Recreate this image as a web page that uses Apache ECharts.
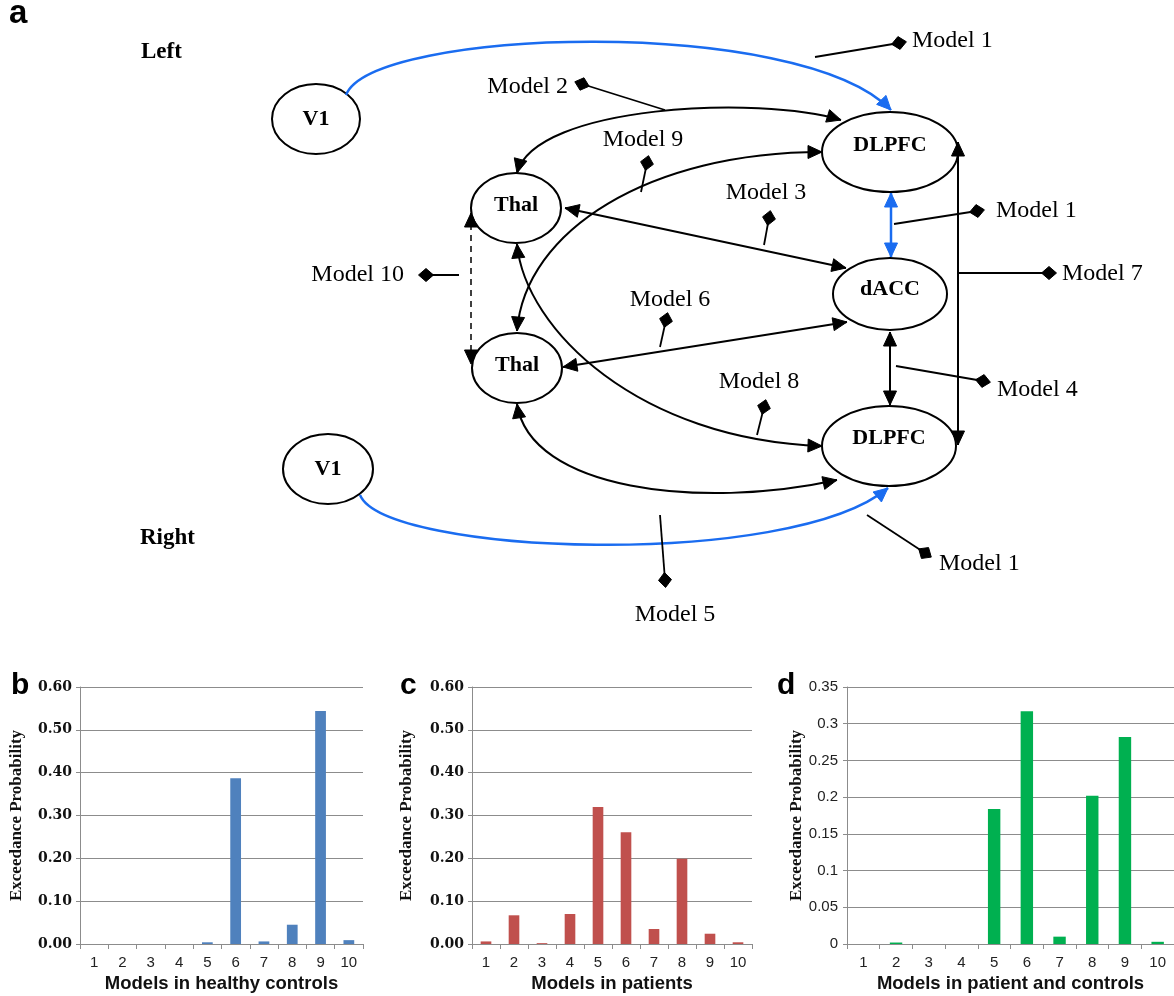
<!DOCTYPE html>
<html><head><meta charset="utf-8">
<script src="https://cdn.jsdelivr.net/npm/echarts@6/dist/echarts.min.js"></script>
<style>html,body{margin:0;padding:0;background:#fff}#c{width:1174px;height:996px}</style>
</head><body><div id="c"></div>
<script>
// ---------- data ----------
const models = ['1','2','3','4','5','6','7','8','9','10'];
const healthyControls = [0, 0, 0, 0, 0.004, 0.387, 0.006, 0.045, 0.544, 0.009];
const patients = [0.006, 0.067, 0.002, 0.070, 0.320, 0.261, 0.035, 0.199, 0.024, 0.004];
const patientsAndControls = [0, 0.002, 0, 0, 0.184, 0.317, 0.010, 0.202, 0.282, 0.003];
const xTitles = ['Models in healthy controls', 'Models in patients', 'Models in patient and controls'];
const yTitle = 'Exceedance Probability';
const panelLetters = ['a', 'b', 'c', 'd'];
const nodeLabels = ['V1', 'Thal', 'Thal', 'DLPFC', 'dACC', 'DLPFC', 'V1'];
const modelTags = ['Model 1','Model 2','Model 9','Model 3','Model 1','Model 7','Model 10','Model 6','Model 4','Model 8','Model 5','Model 1'];

// ---------- diagram layout (pixels) ----------
const nodeGeom = [
  {cx:316, cy:119, rx:44, ry:35, dy:0},
  {cx:516, cy:208, rx:45, ry:35, dy:-3},
  {cx:517, cy:368, rx:45, ry:35, dy:-3},
  {cx:890, cy:152, rx:68, ry:40, dy:-7},
  {cx:890, cy:294, rx:57, ry:36, dy:-5},
  {cx:889, cy:446, rx:67, ry:40, dy:-8},
  {cx:328, cy:469, rx:45, ry:35, dy:0}
];
const BLUE = '#1a6cf0';
const curves = [
  {p0:[346,95], c1:[372,28], c2:[800,15], p3:[891,110], color:BLUE, w:2.5, a0:false, a3:true},
  {p0:[360,495], c1:[385,555], c2:[790,570], p3:[888,488], color:BLUE, w:2.5, a0:false, a3:true},
  {p0:[517,173], c1:[535,105], c2:[760,95], p3:[841,120], color:'#000', w:2, a0:true, a3:true},
  {p0:[517,331], c1:[525,230], c2:[650,152], p3:[822,152], color:'#000', w:2, a0:true, a3:true},
  {p0:[517,244], c1:[525,330], c2:[640,440], p3:[822,446], color:'#000', w:2, a0:true, a3:true},
  {p0:[517,404], c1:[530,490], c2:[700,510], p3:[837,480], color:'#000', w:2, a0:true, a3:true}
];
const straights = [
  {a:[565,208], b:[846,268], color:'#000', w:2},
  {a:[563,367], b:[847,322], color:'#000', w:2},
  {a:[891,193], b:[891,257], color:BLUE, w:2.5},
  {a:[890,332], b:[890,405], color:'#000', w:2},
  {a:[958,142], b:[958,445], color:'#000', w:2},
  {a:[471,213], b:[471,364], color:'#000', w:1.5, dash:[6,5]}
];
const pointerGeom = [
  {from:[815,57], to:[899,43], tx:912, ty:41, align:'left'},
  {from:[665,110], to:[582,84], tx:568, ty:87, align:'right'},
  {from:[641,192], to:[647,163], tx:643, ty:140, align:'center'},
  {from:[764,245], to:[769,218], tx:766, ty:193, align:'center'},
  {from:[894,224], to:[977,211], tx:996, ty:211, align:'left'},
  {from:[959,273], to:[1049,273], tx:1062, ty:274, align:'left'},
  {from:[459,275], to:[426,275], tx:404, ty:275, align:'right'},
  {from:[660,347], to:[666,320], tx:670, ty:300, align:'center'},
  {from:[896,366], to:[983,381], tx:997, ty:390, align:'left'},
  {from:[757,435], to:[764,407], tx:759, ty:382, align:'center'},
  {from:[660,515], to:[665,580], tx:675, ty:615, align:'center'},
  {from:[867,515], to:[925,553], tx:939, ty:564, align:'left'}
];

// ---------- graphic builders ----------
const els = [];
function txt(s, x, y, font, align, va) {
  els.push({type:'text', x:x, y:y, z:40, style:{text:s, font:font, fill:'#000',
    align:align||'left', textAlign:align||'left', verticalAlign:va||'middle', textVerticalAlign:va||'middle'}});
}
function arrow(tip, from, color) {
  const dx = tip[0]-from[0], dy = tip[1]-from[1], L = Math.hypot(dx, dy) || 1;
  const ux = dx/L, uy = dy/L, len = 14, hw = 6.5;
  const bx = tip[0]-ux*len, by = tip[1]-uy*len;
  els.push({type:'polygon', z:30, shape:{points:[[tip[0],tip[1]],[bx-uy*hw,by+ux*hw],[bx+uy*hw,by-ux*hw]]},
    style:{fill:color, stroke:color, lineWidth:1}});
}
function diamond(c, from) {
  const dx = c[0]-from[0], dy = c[1]-from[1], L = Math.hypot(dx, dy) || 1;
  const ux = dx/L, uy = dy/L, a = 7.5, b = 6.5;
  els.push({type:'polygon', z:30, shape:{points:[
    [c[0]+ux*a, c[1]+uy*a],[c[0]-uy*b, c[1]+ux*b],[c[0]-ux*a, c[1]-uy*a],[c[0]+uy*b, c[1]-ux*b]]},
    style:{fill:'#000', stroke:'#000'}});
}
nodeGeom.forEach((n, i) => {
  els.push({type:'ellipse', z:10, shape:{cx:n.cx, cy:n.cy, rx:n.rx, ry:n.ry},
    style:{fill:'#fff', stroke:'#000', lineWidth:2}});
  txt(nodeLabels[i], n.cx, n.cy + n.dy, 'bold 22px "Liberation Serif"', 'center');
});
curves.forEach(c => {
  els.push({type:'bezierCurve', z:20, shape:{x1:c.p0[0], y1:c.p0[1], cpx1:c.c1[0], cpy1:c.c1[1],
    cpx2:c.c2[0], cpy2:c.c2[1], x2:c.p3[0], y2:c.p3[1]}, style:{fill:null, stroke:c.color, lineWidth:c.w}});
  if (c.a3) arrow(c.p3, c.c2, c.color);
  if (c.a0) arrow(c.p0, c.c1, c.color);
});
straights.forEach(s => {
  els.push({type:'line', z:20, shape:{x1:s.a[0], y1:s.a[1], x2:s.b[0], y2:s.b[1]},
    style:{stroke:s.color, lineWidth:s.w, lineDash:s.dash || null}});
  arrow(s.a, s.b, s.color);
  arrow(s.b, s.a, s.color);
});
pointerGeom.forEach((p, i) => {
  els.push({type:'line', z:20, shape:{x1:p.from[0], y1:p.from[1], x2:p.to[0], y2:p.to[1]},
    style:{stroke:'#000', lineWidth:1.8}});
  diamond(p.to, p.from);
  txt(modelTags[i], p.tx, p.ty, '24px "Liberation Serif"', p.align);
});
txt('Left', 141, 52, 'bold 23px "Liberation Serif"', 'left');
txt('Right', 140, 538, 'bold 23px "Liberation Serif"', 'left');
txt(panelLetters[0], 9, 30, 'bold 33px "Liberation Sans"', 'left', 'bottom');
txt(panelLetters[1], 11, 701, 'bold 30px "Liberation Sans"', 'left', 'bottom');
txt(panelLetters[2], 400, 701, 'bold 30px "Liberation Sans"', 'left', 'bottom');
txt(panelLetters[3], 777, 701, 'bold 30px "Liberation Sans"', 'left', 'bottom');

// ---------- charts ----------
const grids = [
  {left:80, top:687, width:283, height:257},
  {left:472, top:687, width:280, height:257},
  {left:847, top:687, width:330, height:257}
];
const nameGaps = [55, 57, 42];
const colors = ['#4f81bd', '#c0504d', '#00b050'];
const seriesData = [healthyControls, patients, patientsAndControls];
const GRIDC = '#8c8c8c';

const xAxes = grids.map((g, i) => ({
  gridIndex:i, type:'category', data:models,
  name:xTitles[i], nameLocation:'middle', nameGap:30,
  nameTextStyle:{fontFamily:'Liberation Sans', fontWeight:'bold', fontSize:18.5, color:'#111'},
  axisLine:{lineStyle:{color:GRIDC, width:1}},
  axisTick:{show:true, length:5, lineStyle:{color:GRIDC}},
  axisLabel:{fontFamily:'Liberation Sans', fontSize:15, color:'#222', margin:11}
}));
const yAxes = grids.map((g, i) => ({
  gridIndex:i, type:'value', min:0, max: i < 2 ? 0.6 : 0.35, interval: i < 2 ? 0.1 : 0.05,
  name:yTitle, nameLocation:'middle', nameGap:nameGaps[i], nameRotate:90,
  nameTextStyle:{fontFamily:'Liberation Serif', fontWeight:'bold', fontSize:17, color:'#111'},
  axisLine:{show:true, lineStyle:{color:GRIDC, width:1}},
  axisTick:{show:true, length:4, lineStyle:{color:GRIDC}},
  splitLine:{show:true, lineStyle:{color:GRIDC, width:1}},
  axisLabel: i < 2
    ? {fontFamily:'DejaVu Serif', fontWeight:'bold', fontSize:14, color:'#111', margin:8,
       formatter: v => v.toFixed(2)}
    : {fontFamily:'Liberation Sans', fontSize:15, color:'#222', margin:9,
       formatter: v => String(+v.toFixed(2))}
}));
const series = seriesData.map((d, i) => ({
  type:'bar', xAxisIndex:i, yAxisIndex:i, data:d, barWidth:'38%',
  itemStyle:{color:colors[i]}, silent:true
}));

const chart = echarts.init(document.getElementById('c'), null, {renderer:'canvas'});
chart.setOption({
  backgroundColor:'#fff',
  animation:false,
  grid:grids,
  xAxis:xAxes,
  yAxis:yAxes,
  series:series,
  graphic:{elements:els}
});
</script></body></html>
